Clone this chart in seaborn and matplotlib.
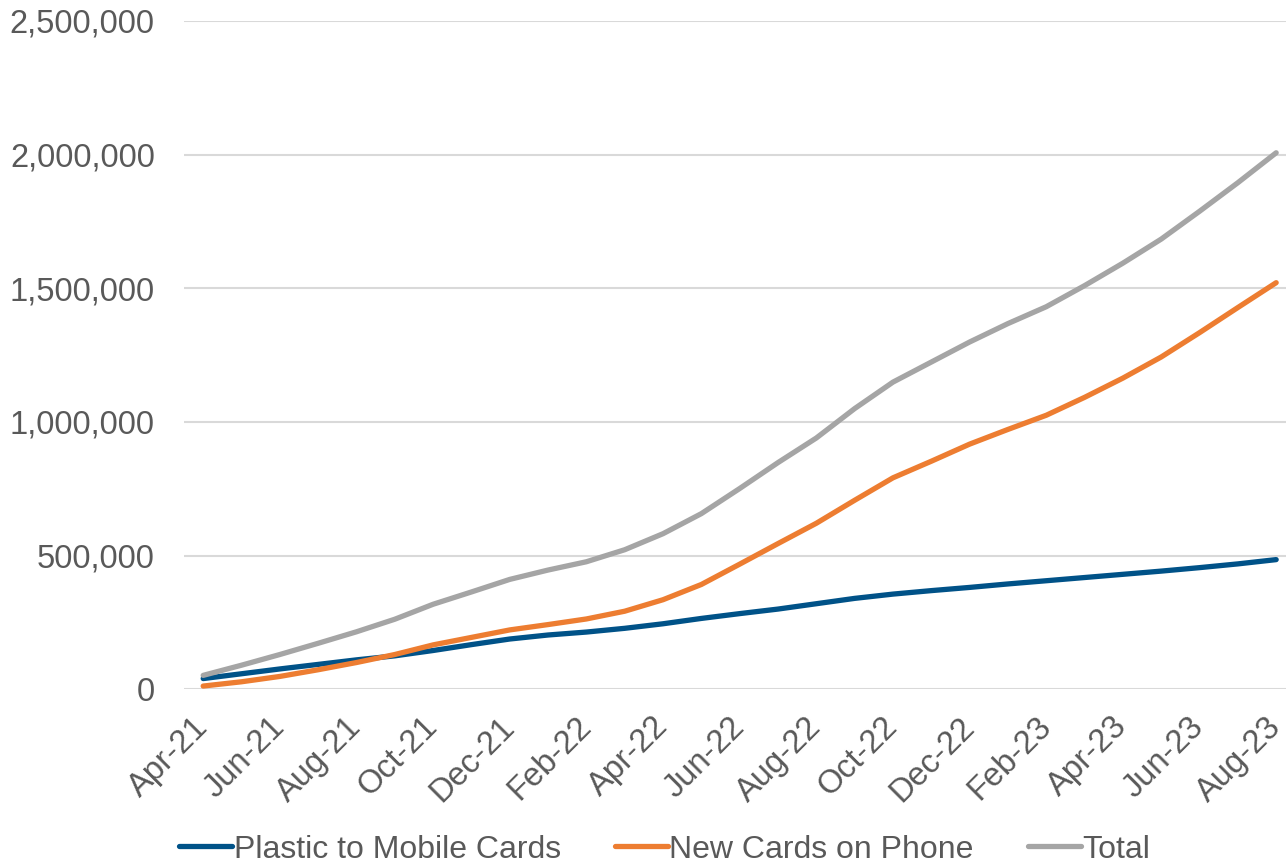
import numpy as np
import pandas as pd
import matplotlib.pyplot as plt
import matplotlib.transforms as mtransforms
import seaborn as sns

months = ['Apr-21', 'May-21', 'Jun-21', 'Jul-21', 'Aug-21', 'Sep-21', 'Oct-21', 'Nov-21', 'Dec-21',
          'Jan-22', 'Feb-22', 'Mar-22', 'Apr-22', 'May-22', 'Jun-22', 'Jul-22', 'Aug-22', 'Sep-22',
          'Oct-22', 'Nov-22', 'Dec-22', 'Jan-23', 'Feb-23', 'Mar-23', 'Apr-23', 'May-23', 'Jun-23',
          'Jul-23', 'Aug-23']

plastic = [40000, 58000, 76000, 93000, 110000, 125000, 145000, 167000, 188000,
           203000, 214000, 228000, 245000, 265000, 283000, 300000, 320000, 340000,
           356000, 369000, 381000, 394000, 406000, 418000, 430000, 442000, 455000,
           469000, 485000]

new_cards = [12000, 28000, 48000, 73000, 100000, 130000, 166000, 194000, 222000,
             242000, 263000, 292000, 335000, 392000, 468000, 545000, 621000, 707000,
             791000, 853000, 917000, 972000, 1025000, 1092000, 1164000, 1243000, 1334000,
             1428000, 1521000]

total = [52000, 90000, 130000, 172000, 215000, 262000, 318000, 364000, 411000,
         446000, 477000, 522000, 582000, 657000, 751000, 848000, 940000, 1050000,
         1149000, 1224000, 1299000, 1368000, 1431000, 1510000, 1594000, 1684000, 1788000,
         1895000, 2007000]

series_names = ['Plastic to Mobile Cards', 'New Cards on Phone', 'Total']
colors = ['#005288', '#ED7D31', '#A5A5A5']

df = pd.DataFrame({'idx': np.arange(len(months)),
                   series_names[0]: plastic,
                   series_names[1]: new_cards,
                   series_names[2]: total})
long = df.melt(id_vars='idx', var_name='series', value_name='value')

sns.set_style('white')
plt.rcParams['font.family'] = ['Liberation Sans', 'DejaVu Sans']

fig = plt.figure(figsize=(12.86, 8.67), dpi=100)
ax = fig.add_axes([0.1431, 0.205, 0.857, 0.7708])

sns.lineplot(data=long, x='idx', y='value', hue='series', hue_order=series_names,
             palette=colors, linewidth=3.8, ax=ax, legend=False, solid_capstyle='round')

ax.set_xlim(-0.5, 28.26)
ax.set_ylim(0, 2500000)
ax.set_yticks(np.arange(0, 2500001, 500000))
ax.set_yticklabels([f'{int(v):,}' for v in np.arange(0, 2500001, 500000)])
ax.yaxis.grid(True, color='#D9D9D9', linewidth=1.5)
ax.set_axisbelow(True)
for s in ['top', 'right', 'left', 'bottom']:
    ax.spines[s].set_visible(False)

tick_pos = np.arange(0, len(months), 2)
ax.set_xticks(tick_pos)
ax.set_xticklabels([months[i] for i in tick_pos], rotation=45, ha='right',
                   rotation_mode='anchor')
ax.tick_params(axis='both', labelsize=23.5, labelcolor='#595959', length=0)
ax.tick_params(axis='y', pad=21)
ax.tick_params(axis='x', pad=10)
ax.set_xlabel('')
ax.set_ylabel('')

# nudge the rotated month labels left and down a little
shift = mtransforms.ScaledTranslation(-0.11, -0.08, fig.dpi_scale_trans)
for lbl in ax.get_xticklabels():
    lbl.set_transform(lbl.get_transform() + shift)

handles = [plt.Line2D([], [], color=c, linewidth=3.8) for c in colors]
leg = fig.legend(handles, series_names, loc='center', bbox_to_anchor=(0.517, 0.02),
                 ncol=3, frameon=False, fontsize=23, handlelength=1.65,
                 handletextpad=0.05, columnspacing=1.7)
for t in leg.get_texts():
    t.set_color('#595959')

fig.savefig('out.png', dpi=100)
